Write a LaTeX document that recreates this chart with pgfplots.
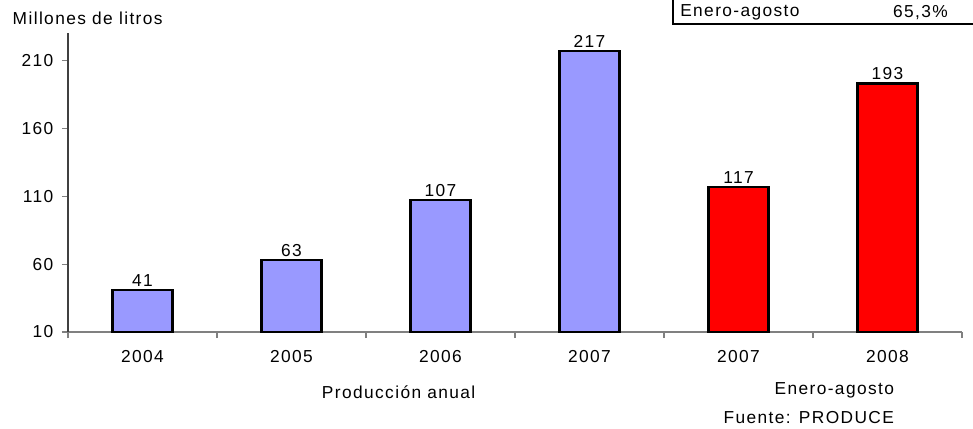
\documentclass[border=0pt]{standalone}
\usepackage{pgfplots}
\pgfplotsset{compat=1.18}
\usepackage{fontspec}
\setmainfont{Liberation Sans}[LetterSpace=8]
\definecolor{barblue}{RGB}{153,153,255}
\definecolor{barred}{RGB}{255,0,0}
\definecolor{axisgray}{RGB}{128,128,128}
\begin{document}
\fontsize{13}{15}\selectfont
\begin{tikzpicture}
\useasboundingbox (-51pt,-72pt) rectangle (678.75pt,249pt);
\begin{axis}[
at={(0pt,0pt)}, anchor=south west,
scale only axis,
width=670.5pt, height=224pt,
xmin=-0.5, xmax=5.5,
ymin=10, ymax=230,
ybar, bar width=0.403, bar shift=0pt,
axis lines*=left,
x axis line style={axisgray, line width=0.9pt},
y axis line style={black!75, line width=0.9pt},
tick align=outside,
xtick pos=bottom, ytick pos=left,
major tick length=4.5pt,
tick style={axisgray, line width=0.9pt},
xtick={-0.5,0.5,...,5.5}, xticklabels={},
extra x ticks={0,1,2,3,4,5},
extra x tick labels={2004,2005,2006,2007,2007,2008},
extra x tick style={major tick length=0pt, xticklabel style={yshift=-9pt}},
ytick={10,60,110,160,210},
yticklabel style={xshift=-2pt},
/pgf/number format/assume math mode=true,
nodes near coords,
nodes near coords style={inner sep=0pt, yshift=2pt, black},
]
\addplot [fill=barblue, draw=black, line width=1.6pt, bar shift=0pt]
coordinates {(0,41) (1,63) (2,107) (3,217)};
\addplot [fill=barred, draw=black, line width=1.6pt, bar shift=0pt]
coordinates {(4,117) (5,193)};
\end{axis}
\node at (248pt,-45pt) {Producción anual};
\node[anchor=east] at (624pt,-43.5pt) {Enero-agosto};
\node[anchor=east] at (624pt,-64.5pt) {Fuente: PRODUCE};
\node[anchor=west] at (-46pt,235.5pt) {Millones de litros};
\draw[fill=white, line width=1pt] (453.75pt,231pt) rectangle (700pt,270pt);
\node[anchor=west, inner sep=0pt] at (459pt,239.5pt) {Enero-agosto};
\node[anchor=east, inner sep=0pt] at (660pt,239.5pt) {65,3\%};
\end{tikzpicture}
\end{document}
